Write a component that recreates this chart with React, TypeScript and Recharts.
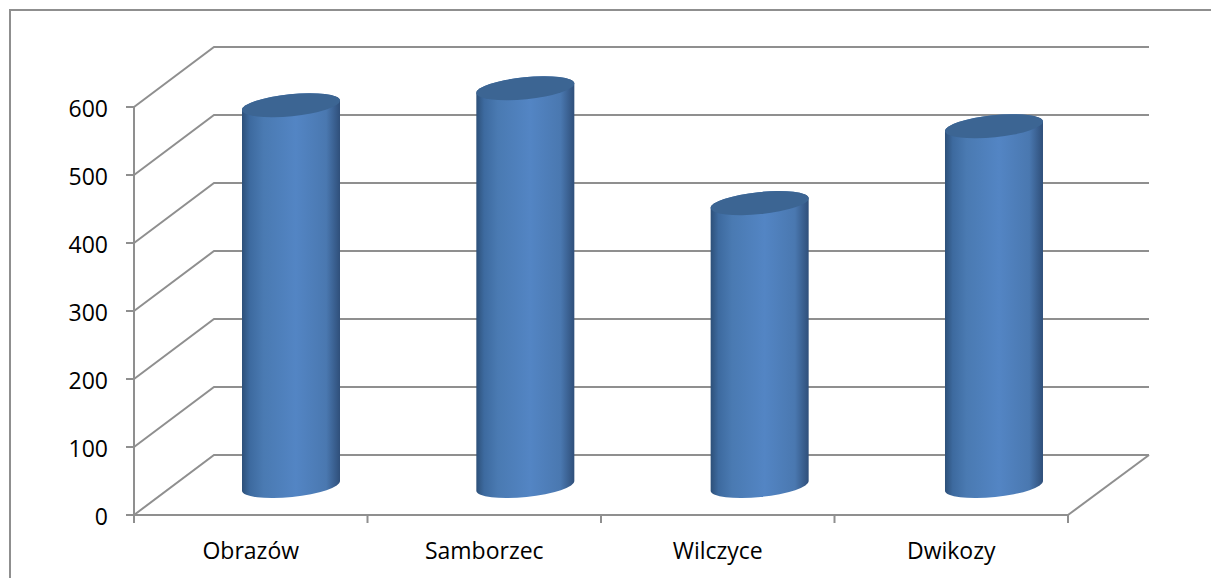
import { BarChart, Bar, XAxis, YAxis, CartesianGrid } from "recharts"

const categories = ["Obrazów", "Samborzec", "Wilczyce", "Dwikozy"]
const values = [560, 585, 416, 529]
const yTicks = [0, 100, 200, 300, 400, 500, 600]

const data = categories.map((name, i) => ({ name, value: values[i] }))

const W = 1211
const H = 578
const axisWidth = 134
const axisHeight = 63
const margin = { top: 107, right: 143, bottom: 0, left: 0 }
const axisColor = "#8f8f8f"
const font = "'Open Sans', sans-serif"
const band = (W - axisWidth - margin.right) / categories.length

// 3D depth of the floor and walls, and where the cylinders stand in it
const depthX = 80
const depthY = 60
const barDx = 40
const barDxStep = 0.83
const barDy = 29
const tiltY = 5

function GridLine({ x1, y1, x2, y2 }: any) {
  const isFloor = Math.abs(y1 - (H - axisHeight)) < 1
  return (
    <g fill="none" stroke={axisColor} strokeWidth={2}>
      <path d={`M${x1},${y1}L${x1 + depthX},${y1 - depthY}L${x2 + depthX + 1},${y1 - depthY}`} />
      {isFloor && <path d={`M${x2},${y2}L${x2 + depthX + 1},${y2 - depthY}`} />}
    </g>
  )
}

function Cylinder({ x, y, width, height, index }: any) {
  const left = x + barDx + barDxStep * index
  const right = left + width
  const top = y - barDy
  const bottom = y + height - barDy
  const rx = width / 2
  const ry = 11
  const arc = `${rx} ${ry} -5.8`
  return (
    <g>
      <path
        d={`M${left},${top + tiltY}L${left},${bottom + tiltY}A${arc} 0 0 ${right},${bottom - tiltY}L${right},${top - tiltY}A${arc} 0 0 ${left},${top + tiltY}Z`}
        fill="url(#cylinderSide)"
      />
      <path
        d={`M${left},${top + tiltY}A${arc} 0 1 ${right},${top - tiltY}A${arc} 0 1 ${left},${top + tiltY}Z`}
        fill="#3c6593"
      />
    </g>
  )
}

function CategoryTick({ x, payload, index }: any) {
  const tickTop = H - axisHeight
  return (
    <g>
      <line x1={x - band / 2} x2={x - band / 2} y1={tickTop} y2={tickTop + 8} stroke={axisColor} strokeWidth={2} />
      {index === categories.length - 1 && (
        <line x1={x + band / 2} x2={x + band / 2} y1={tickTop} y2={tickTop + 8} stroke={axisColor} strokeWidth={2} />
      )}
      <text x={x} y={559} textAnchor="middle" fontFamily={font} fontSize={23} fill="#000">
        {payload.value}
      </text>
    </g>
  )
}

export default function App() {
  return (
    <div style={{ position: "absolute", left: 0, top: 0, width: W, height: H, overflow: "hidden", background: "#fff" }}>
      <div style={{ position: "absolute", left: 9, top: 9, width: W, height: H, borderLeft: `2px solid ${axisColor}`, borderTop: `2px solid ${axisColor}` }} />
      <div style={{ position: "absolute", left: 0, top: 0 }}>
        <BarChart width={W} height={H} data={data} margin={margin} barSize={98}>
          <defs>
            <linearGradient id="cylinderSide" x1="0" y1="0" x2="1" y2="0">
              <stop offset="0%" stopColor="#2d5079" />
              <stop offset="8%" stopColor="#3d6a9f" />
              <stop offset="22%" stopColor="#4a7ab2" />
              <stop offset="55%" stopColor="#5385c4" />
              <stop offset="86%" stopColor="#4a78b0" />
              <stop offset="100%" stopColor="#2f4f7a" />
            </linearGradient>
          </defs>
          <CartesianGrid horizontal={(props: any) => <GridLine key={props.key} {...props} />} vertical={false} syncWithTicks />
          <XAxis
            dataKey="name"
            tick={<CategoryTick />}
            tickLine={false}
            axisLine={{ stroke: axisColor, strokeWidth: 2 }}
            interval={0}
            height={axisHeight}
          />
          <YAxis
            domain={[0, 600]}
            ticks={yTicks}
            width={axisWidth}
            tickSize={8}
            tickMargin={18}
            tick={{ fontSize: 23, fontFamily: font, fill: "#000", dy: 2 }}
            tickLine={{ stroke: axisColor, strokeWidth: 2 }}
            axisLine={{ stroke: axisColor, strokeWidth: 2 }}
          />
          <Bar dataKey="value" shape={<Cylinder />} isAnimationActive={false} />
        </BarChart>
      </div>
    </div>
  )
}
